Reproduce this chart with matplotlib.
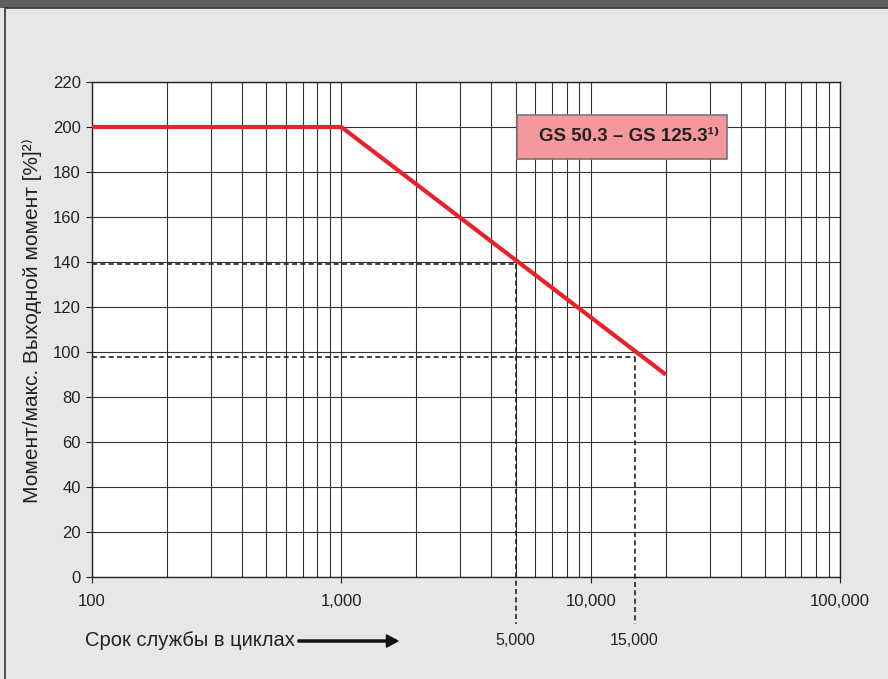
import matplotlib
matplotlib.use("Agg")
import matplotlib.pyplot as plt
from matplotlib.patches import Rectangle, FancyArrow
from matplotlib.ticker import FixedLocator, NullFormatter, LogLocator

plt.rcParams['font.family'] = ['Liberation Sans', 'DejaVu Sans']

# service life curve: cycles vs torque [%]
cycles = [100, 1000, 20000]
torque = [200, 200, 90]

# reference points
ref_cycles = [5000, 15000]
ref_torque = [139, 98]
ref_labels = ["5,000", "15,000"]

x_ticks = [100, 1000, 10000, 100000]
x_ticklabels = ["100", "1,000", "10,000", "100,000"]
y_ticks = list(range(0, 221, 20))

fig = plt.figure(figsize=(8.88, 6.79), dpi=100)
fig.patch.set_facecolor("#e6e7e8")

# header strip and panel border
fig.patches.append(Rectangle((0, 1 - 8 / 679), 1, 8 / 679, transform=fig.transFigure,
                             facecolor="#5e5e5e", edgecolor="none", zorder=0))
fig.patches.append(Rectangle((5 / 888, -0.01), 1.0, 1 - 8 / 679 + 0.01, transform=fig.transFigure,
                             facecolor="none", edgecolor="#333333", lw=1.2, zorder=1))

ax = fig.add_axes([92 / 888, 102 / 679, 748 / 888, 495 / 679])
ax.set_facecolor("white")
ax.set_xscale("log")
ax.set_xlim(100, 100000)
ax.set_ylim(0, 220)

ax.xaxis.set_major_locator(FixedLocator(x_ticks))
ax.xaxis.set_minor_locator(LogLocator(base=10, subs=range(2, 10)))
ax.xaxis.set_minor_formatter(NullFormatter())
ax.set_xticks(x_ticks)
ax.set_xticklabels(x_ticklabels)
ax.set_yticks(y_ticks)

ax.grid(True, which="both", axis="x", color="#333333", lw=0.8)
ax.grid(True, which="major", axis="y", color="#333333", lw=0.8)
ax.set_axisbelow(True)

for s in ax.spines.values():
    s.set_color("#222222")
    s.set_linewidth(1.0)

ax.tick_params(axis="y", direction="out", length=4, width=0.8, pad=4,
               labelsize=12, colors="#222222")
ax.tick_params(axis="x", which="major", direction="out", length=4, width=0.8, pad=8,
               labelsize=12, colors="#222222")
ax.tick_params(axis="x", which="minor", length=0)

fig.text(32 / 888, 1 - 321 / 679, "Момент/макс. Выходной момент [%]²⁾", fontsize=15,
         color="#222222", rotation=90, ha="center", va="center")

# dashed reference lines
for xc, yc in zip(ref_cycles, ref_torque):
    ax.plot([100, xc], [yc, yc], color="#222222", lw=1.2, ls=(0, (3, 2)),
            clip_on=False, zorder=3)
    ax.plot([xc, xc], [yc, -21], color="#222222", lw=1.2, ls=(0, (3, 2)),
            clip_on=False, zorder=3)

ax.plot(cycles, torque, color="#e8212b", lw=3.0, solid_capstyle="butt", zorder=4)

for xc, lab in zip(ref_cycles, ref_labels):
    ax.annotate(lab, xy=(xc, 0), xycoords=("data", "axes fraction"),
                xytext=(0, -46), textcoords="offset points", ha="center", va="center",
                fontsize=11.5, color="#222222")

# x axis caption with arrow
fig.text(85 / 888, 1 - 641 / 679, "Срок службы в циклах", fontsize=14.5,
         color="#222222", ha="left", va="center")
fig.patches.append(FancyArrow(
    298 / 888, 1 - 641 / 679, 100 / 888, 0, width=0.003, head_width=0.018,
    head_length=0.013, length_includes_head=True, transform=fig.transFigure,
    color="#111111"))

# legend box
box = Rectangle((0.568, 0.844), 0.281, 0.089, transform=ax.transAxes,
                facecolor="#f5989d", edgecolor="#777777", lw=1.2, zorder=5)
ax.add_patch(box)
ax.text(0.7186, 0.889, "GS 50.3 – GS 125.3¹⁾", transform=ax.transAxes,
        ha="center", va="center", fontsize=13.5, fontweight="bold",
        color="#222222", zorder=6)

fig.savefig("out.png", dpi=100, facecolor=fig.get_facecolor())
